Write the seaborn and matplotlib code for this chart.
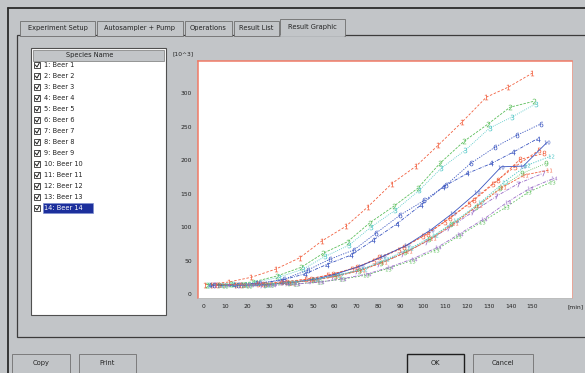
import numpy as np
import pandas as pd
import matplotlib
matplotlib.use("Agg")
import matplotlib.pyplot as plt
import seaborn as sns
from matplotlib.patches import Rectangle
from matplotlib.ticker import MultipleLocator

# --- data ---
tab_names = ["Experiment Setup", "Autosampler + Pump", "Operations", "Result List", "Result Graphic"]
species = [f"{i}: Beer {i}" for i in range(1, 15)]
buttons = ["Copy", "Print", "OK", "Cancel"]

# autosampler cycles through the 14 samples, so every sample is a bit later
sample_times = [1, 12, 22, 33, 44, 54, 65, 75, 86, 97, 107, 118, 129, 139, 150]
time_shift = [0, 0.8, 1.5, 2.3, 3.0, 3.8, 4.6, 5.3, 6.1, 6.8, 7.6, 8.4, 9.1, 9.9]

beer_1 = [14, 18, 25, 37, 54, 79, 101, 130, 165, 191, 222, 257, 294, 309, 330]
beer_2 = [14, 15, 18, 27, 40, 61, 78, 106, 131, 158, 195, 228, 254, 279, 288]
beer_3 = [14, 15, 17, 25, 37, 56, 73, 100, 125, 155, 188, 215, 248, 264, 284]
beer_4 = [13, 14, 16, 20, 30, 44, 58, 80, 105, 133, 160, 180, 195, 212, 232]
beer_5 = [13, 14, 15, 18, 22, 28, 38, 50, 66, 86, 108, 135, 165, 190, 215]
beer_6 = [13, 14, 16, 22, 36, 52, 66, 91, 118, 140, 163, 195, 219, 237, 254]
beer_7 = [13, 13, 14, 16, 20, 26, 34, 45, 60, 78, 98, 122, 146, 165, 180]
beer_8 = [14, 14, 15, 18, 23, 30, 40, 55, 70, 90, 113, 140, 170, 201, 210]
beer_9 = [13, 13, 14, 17, 21, 27, 35, 47, 62, 82, 104, 130, 158, 180, 195]
beer_10 = [13, 13, 14, 17, 22, 30, 42, 56, 73, 96, 121, 152, 190, 191, 227]
beer_11 = [14, 14, 15, 17, 21, 27, 36, 48, 64, 84, 106, 133, 160, 178, 185]
beer_12 = [13, 14, 15, 18, 22, 29, 38, 52, 68, 88, 110, 137, 168, 192, 206]
beer_13 = [12, 12, 13, 15, 18, 22, 28, 38, 50, 66, 86, 108, 130, 152, 168]
beer_14 = [13, 13, 13, 15, 18, 23, 30, 40, 53, 70, 90, 112, 138, 158, 173]

all_series = [beer_1, beer_2, beer_3, beer_4, beer_5, beer_6, beer_7,
              beer_8, beer_9, beer_10, beer_11, beer_12, beer_13, beer_14]

RED, GREEN, CYAN, BLUE, PURPLE = "#f2603f", "#5cbf5c", "#49c4c4", "#3a55c0", "#9a6cc8"
series_colors = [RED, GREEN, CYAN, BLUE, RED, BLUE, PURPLE,
                 RED, GREEN, BLUE, RED, CYAN, GREEN, PURPLE]
dash_styles = [(3, 2), (3, 1.5), (1, 1.5), (4, 1.5, 1, 1.5), (3, 2), (1.5, 1.5), (4, 1.5, 1, 1.5),
               (3, 2), (1, 1.5), "", (3, 1.5), (1.5, 1.5), (2, 2), (4, 1.5, 1, 1.5)]

rows = []
for i, vals in enumerate(all_series):
    for t, v in zip(sample_times, vals):
        rows.append({"name": f"Beer {i + 1}", "time": t + time_shift[i], "value": v})
df = pd.DataFrame(rows)

names = [f"Beer {i + 1}" for i in range(14)]
palette = dict(zip(names, series_colors))
markers = {n: f"${i + 1}$" for i, n in enumerate(names)}
dashes = dict(zip(names, dash_styles))

# --- figure ---
sns.set_style("white")
plt.rcParams["font.family"] = ["DejaVu Sans"]
BG = "#c2c5c8"
fig = plt.figure(figsize=(5.85, 3.73), dpi=100, facecolor=BG)

# dialog background drawn in pixel coordinates
bg = fig.add_axes([0, 0, 1, 1])
bg.set_xlim(0, 585)
bg.set_ylim(373, 0)
bg.axis("off")

bg.plot([8, 8], [8, 373], color="#2a2a2a", lw=1.3)
bg.plot([8, 585], [8, 8], color="#2a2a2a", lw=1.3)

# tab page
bg.add_patch(Rectangle((17, 35), 600, 302, facecolor=BG, edgecolor="#3c3c3c", lw=0.9))

tab_x = [(20, 95), (97, 183), (185, 232), (234, 279), (280, 345)]
for k, (name, (x0, x1)) in enumerate(zip(tab_names, tab_x)):
    sel = k == len(tab_names) - 1
    y0 = 19 if sel else 21
    bg.add_patch(Rectangle((x0, y0), x1 - x0, 36 - y0, facecolor=BG,
                           edgecolor="#6e6e6e", lw=0.6, zorder=3))
    bg.text((x0 + x1) / 2, 28 if not sel else 27, name, fontsize=4.8, ha="center",
            va="center", color="#222222", zorder=4)
bg.plot([281, 344], [35.5, 35.5], color=BG, lw=1.2, zorder=5)

# species list box
bg.add_patch(Rectangle((31, 48), 135, 267, facecolor="white", edgecolor="#505050", lw=0.8))
bg.add_patch(Rectangle((33, 49.5), 131, 11, facecolor=BG, edgecolor="#777777", lw=0.5))
bg.text(90, 55, "Species Name", fontsize=4.8, ha="center", va="center", color="#222222")
for k, name in enumerate(species):
    y = 65 + 11 * k
    bg.add_patch(Rectangle((34, y - 3.2), 6.4, 6.4, facecolor="white", edgecolor="#303030", lw=0.6))
    bg.plot([35.3, 37, 39.4], [y, y + 2, y - 2.2], color="#202020", lw=0.7)
    if k == len(species) - 1:
        bg.add_patch(Rectangle((42.5, y - 5), 50, 10, facecolor="#1c2f9c", edgecolor="#8090d0", lw=0.5))
        bg.text(44, y, name, fontsize=4.8, va="center", color="white")
    else:
        bg.text(44, y, name, fontsize=4.8, va="center", color="#222222")

# buttons
button_box = [(12, 58), (79, 57), (407, 57), (473, 60)]
for name, (x0, w) in zip(buttons, button_box):
    edge = "#1e1e1e" if name == "OK" else "#707070"
    bg.add_patch(Rectangle((x0, 354), w, 24, facecolor=BG, edgecolor=edge,
                           lw=1.0 if name == "OK" else 0.6))
    bg.text(x0 + w / 2, 363, name, fontsize=4.8, ha="center", va="center", color="#222222")

# units
bg.text(183, 54, "[10^3]", fontsize=4.3, ha="center", va="center", color="#222222")
bg.text(576, 307, "[min]", fontsize=4.3, ha="center", va="center", color="#222222")

# chart
ax = fig.add_axes([198 / 585, 1 - 298 / 373, 374 / 585, 237 / 373])
ax.set_facecolor("white")
sns.lineplot(data=df, x="time", y="value", hue="name", style="name",
             palette=palette, markers=markers, dashes=dashes,
             markersize=4, markeredgewidth=0, lw=0.6, legend=False,
             sort=False, estimator=None, ax=ax)

ax.set_xlim(-2.3, 168)
ax.set_ylim(-6, 348)
ax.xaxis.set_major_locator(MultipleLocator(10))
ax.xaxis.set_minor_locator(MultipleLocator(2))
ax.yaxis.set_major_locator(MultipleLocator(50))
ax.yaxis.set_minor_locator(MultipleLocator(25))
ax.set_xticks(np.arange(0, 151, 10))
ax.tick_params(axis="both", which="major", labelsize=4.3, length=2.5, width=0.6,
               direction="out", pad=2, colors="#222222")
ax.tick_params(axis="both", which="minor", length=1.2, width=0.6, colors="#222222")
ax.set_xlabel("")
ax.set_ylabel("")
for side in ["top", "left"]:
    ax.spines[side].set_color("#f07a66")
    ax.spines[side].set_linewidth(1.1)
ax.spines["right"].set_color("#f0a090")
ax.spines["right"].set_linewidth(0.6)
ax.spines["bottom"].set_color("#bbbbbb")
ax.spines["bottom"].set_linewidth(0.5)

fig.savefig("out.png", dpi=100, facecolor=BG)
